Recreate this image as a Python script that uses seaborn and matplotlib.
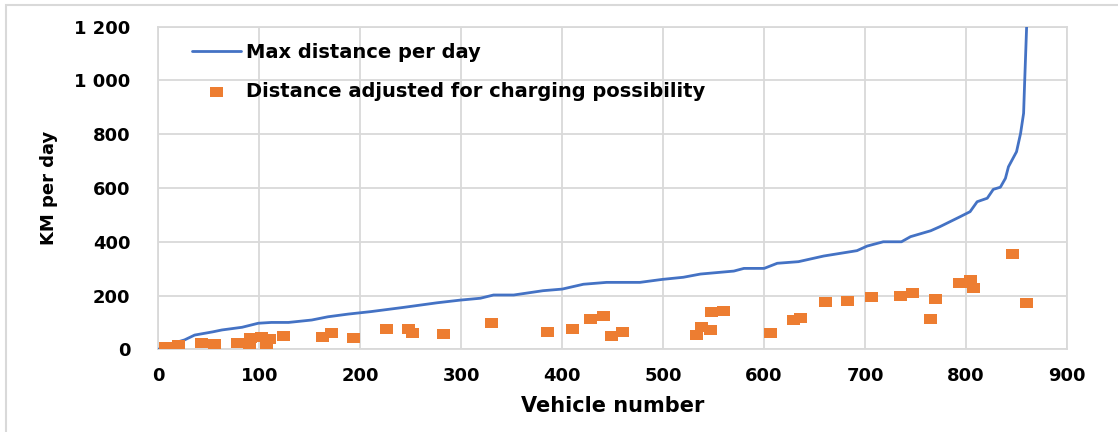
import numpy as np
import pandas as pd
import matplotlib
matplotlib.use("Agg")
import matplotlib.pyplot as plt
from matplotlib.path import Path
from matplotlib.patches import Rectangle
from matplotlib.ticker import FuncFormatter
import seaborn as sns

# Max distance per day, vehicles sorted by distance (vertices of the curve)
vehicle_max = [0, 17, 26, 36, 54, 63, 83, 99, 112, 129, 152, 168, 188, 210, 243,
               276, 299, 319, 332, 352, 381, 400, 421, 444, 477, 499, 520, 537,
               570, 580, 600, 613, 634, 659, 692, 702, 718, 736, 745, 765, 774,
               794, 804, 811, 821, 827, 834, 839, 842, 850, 854, 857, 858, 860, 862]
km_max = [0, 25, 35, 53, 65, 72, 82, 97, 100, 100, 109, 121, 131, 140, 156,
          173, 183, 190, 202, 202, 218, 224, 242, 249, 249, 260, 268, 280,
          291, 301, 301, 320, 326, 347, 367, 384, 400, 400, 419, 441, 456,
          493, 512, 549, 562, 595, 603, 636, 679, 735, 803, 878, 990, 1200, 1500]

# Distance adjusted for charging possibility
vehicle_adj = [7, 20, 43, 56, 78, 90, 91, 102, 107, 110, 124, 163, 172, 193, 226,
               248, 252, 282, 330, 385, 410, 428, 441, 449, 460, 533, 538, 547,
               548, 560, 606, 629, 636, 661, 683, 706, 735, 747, 765, 770, 794,
               804, 807, 846, 860]
km_adj = [10, 16, 25, 19, 25, 20, 41, 45, 16, 37, 50, 45, 59, 43, 74,
          77, 62, 56, 99, 66, 77, 112, 124, 51, 64, 53, 84, 72,
          140, 144, 59, 109, 115, 175, 180, 196, 199, 211, 112, 187, 248,
          258, 227, 355, 171]

x_ticks = [0, 100, 200, 300, 400, 500, 600, 700, 800, 900]
y_ticks = [0, 200, 400, 600, 800, 1000, 1200]

line_label = "Max distance per day"
point_label = "Distance adjusted for charging possibility"

df_line = pd.DataFrame({"vehicle": vehicle_max, "km": km_max})
df_pts = pd.DataFrame({"vehicle": vehicle_adj, "km": km_adj})

sns.set_theme(style="white")
plt.rcParams["font.family"] = ["DejaVu Sans"]
plt.rcParams["font.weight"] = "bold"
plt.rcParams["text.color"] = "black"
plt.rcParams["axes.labelcolor"] = "black"

fig = plt.figure(figsize=(11.18, 4.32), dpi=100)
ax = fig.add_axes([0.1416, 0.1914, 0.8128, 0.7468])

blue = "#4472C4"
orange = "#ED7D31"

# wide rectangular marker
rect = Path([(-1.3, -1.0), (1.3, -1.0), (1.3, 1.0), (-1.3, 1.0), (-1.3, -1.0)],
            [Path.MOVETO, Path.LINETO, Path.LINETO, Path.LINETO, Path.CLOSEPOLY])

sns.lineplot(data=df_line, x="vehicle", y="km", ax=ax, color=blue, linewidth=2.0,
             label=line_label, zorder=3)
sns.scatterplot(data=df_pts, x="vehicle", y="km", ax=ax, color=orange, marker=rect,
                s=88, edgecolor="none", linewidth=0, label=point_label, zorder=4)

ax.set_xlim(0, 900)
ax.set_ylim(0, 1200)
ax.set_xticks(x_ticks)
ax.set_yticks(y_ticks)
ax.yaxis.set_major_formatter(FuncFormatter(lambda v, p: f"{int(v):,}".replace(",", " ")))

ax.grid(True, color="#d9d9d9", linewidth=1.3)
ax.set_axisbelow(True)
for s in ax.spines.values():
    s.set_color("#d9d9d9")
    s.set_linewidth(1.3)

ax.tick_params(axis="both", length=0, labelsize=13, colors="black")
ax.tick_params(axis="y", pad=20)
ax.tick_params(axis="x", pad=13)
for lab in ax.get_xticklabels() + ax.get_yticklabels():
    lab.set_fontweight("bold")

ax.set_xlabel("Vehicle number", fontsize=15, fontweight="bold", labelpad=8)
ax.set_ylabel("KM per day", fontsize=13, fontweight="bold", labelpad=12)

leg = ax.legend(loc="upper left", bbox_to_anchor=(0.037, 0.95), frameon=False,
                handlelength=2.5, handletextpad=0.3, labelspacing=1.05,
                borderpad=0, borderaxespad=0, prop={"weight": "bold", "size": 14})
for t in leg.get_texts():
    t.set_color("black")

# outer chart border
fig.patches.append(Rectangle((0.0055, -0.2), 1.2, 1.188, transform=fig.transFigure,
                             fill=False, edgecolor="#d9d9d9", linewidth=1.5))

fig.savefig("out.png", dpi=100)
